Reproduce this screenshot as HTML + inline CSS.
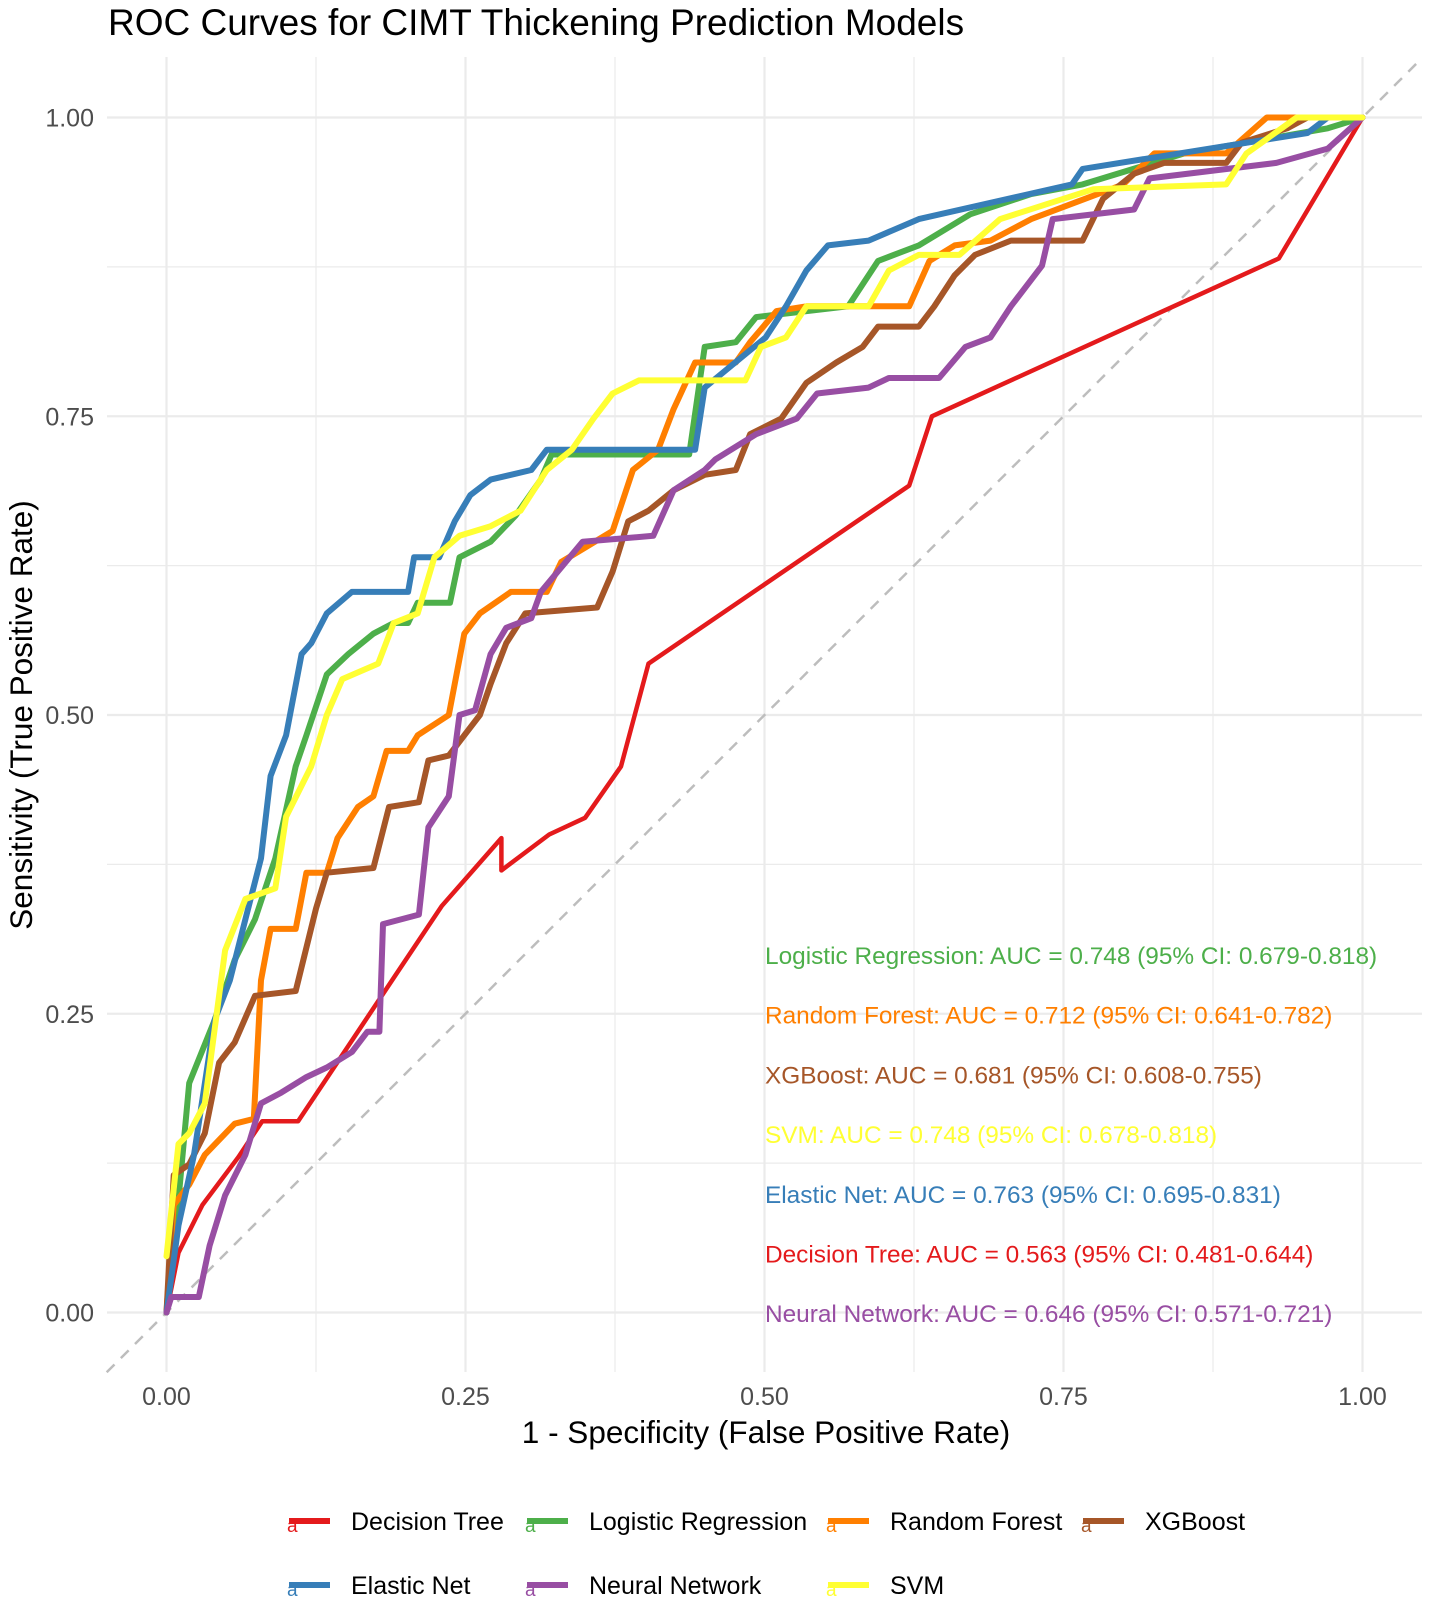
<!DOCTYPE html>
<html><head><meta charset="utf-8"><style>
html,body{margin:0;padding:0;background:#fff;}
svg{display:block;font-family:"Liberation Sans",Arial,sans-serif;}
</style></head><body>
<svg id="chart" width="1430" height="1602" viewBox="0 0 1430 1602">
<text x="108" y="35" font-size="37" fill="#000">ROC Curves for CIMT Thickening Prediction Models</text>
<g id="grid"></g>
<g id="curves"></g>
<g id="annot"></g>
<g id="axes"></g>
<g id="legend"></g>
</svg>
<script>
const xTicks = [0, 0.25, 0.5, 0.75, 1];
const xTickLabels = ["0.00","0.25","0.50","0.75","1.00"];
const yTicks = [0, 0.25, 0.5, 0.75, 1];
const yTickLabels = ["0.00","0.25","0.50","0.75","1.00"];
const seriesNames = ["Decision Tree","Logistic Regression","Random Forest","XGBoost","Elastic Net","Neural Network","SVM"];
const seriesColors = ["#E41A1C","#4DAF4A","#FF7F00","#A65628","#377EB8","#984EA3","#FFFF33"];
const aucLabels = [
 ["Logistic Regression: AUC = 0.748 (95% CI: 0.679-0.818)","#4DAF4A"],
 ["Random Forest: AUC = 0.712 (95% CI: 0.641-0.782)","#FF7F00"],
 ["XGBoost: AUC = 0.681 (95% CI: 0.608-0.755)","#A65628"],
 ["SVM: AUC = 0.748 (95% CI: 0.678-0.818)","#FFFF33"],
 ["Elastic Net: AUC = 0.763 (95% CI: 0.695-0.831)","#377EB8"],
 ["Decision Tree: AUC = 0.563 (95% CI: 0.481-0.644)","#E41A1C"],
 ["Neural Network: AUC = 0.646 (95% CI: 0.571-0.721)","#984EA3"]
];
const dtFpr=[0,.01,.03,.06,.08,.11,.19,.23,.28,.28,.32,.35,.38,.403,.621,.64,.93,1];
const dtTpr=[0,.05,.09,.13,.16,.16,.28,.34,.397,.37,.40,.414,.457,.543,.692,.75,.882,1];
const lrFpr=[0,.008,.019,.040,.057,.074,.091,.108,.117,.134,.152,.173,.190,.202,.210,.237,.245,.271,.292,.313,.322,.437,.450,.476,.493,.535,.570,.595,.629,.672,.723,.766,.851,.971,1];
const lrTpr=[0,.073,.192,.244,.295,.329,.380,.457,.483,.534,.551,.568,.577,.577,.594,.594,.632,.645,.667,.697,.718,.718,.808,.812,.833,.838,.842,.880,.893,.919,.936,.944,.970,.991,1];
const rfFpr=[0,.006,.019,.032,.057,.073,.079,.087,.108,.117,.134,.143,.160,.173,.184,.202,.210,.236,.249,.262,.288,.318,.330,.373,.390,.411,.424,.442,.476,.488,.510,.535,.621,.638,.659,.689,.723,.800,.826,.886,.920,1];
const rfTpr=[0,.090,.107,.132,.158,.162,.278,.321,.321,.368,.368,.397,.423,.432,.470,.470,.483,.500,.568,.585,.603,.603,.628,.654,.705,.722,.756,.795,.795,.812,.838,.842,.842,.880,.893,.897,.915,.944,.970,.970,1,1];
const xgFpr=[0,.006,.019,.032,.044,.057,.074,.108,.125,.134,.173,.186,.211,.219,.236,.249,.262,.271,.284,.300,.360,.373,.386,.403,.424,.450,.476,.488,.514,.535,.560,.582,.595,.629,.642,.659,.676,.706,.766,.783,.809,.834,.886,.899,.937,.954,1];
const xgTpr=[0,.115,.124,.150,.209,.226,.265,.269,.338,.368,.372,.423,.427,.462,.466,.483,.500,.526,.560,.585,.590,.620,.662,.671,.688,.701,.705,.735,.748,.778,.795,.808,.825,.825,.842,.868,.885,.897,.897,.932,.953,.962,.962,.979,.991,1,1];
const enFpr=[0,.010,.023,.040,.053,.066,.079,.087,.100,.113,.121,.134,.155,.202,.207,.228,.241,.254,.271,.305,.318,.442,.450,.501,.518,.535,.553,.587,.629,.757,.766,.954,.971,1];
const enTpr=[0,.073,.132,.244,.278,.329,.380,.449,.483,.551,.560,.585,.603,.603,.632,.632,.662,.684,.697,.705,.722,.722,.774,.816,.842,.872,.893,.897,.915,.944,.957,.987,1,1];
const nnFpr=[0,.004,.027,.036,.049,.066,.079,.096,.117,.134,.155,.168,.178,.181,.211,.219,.236,.245,.258,.271,.284,.305,.313,.348,.407,.424,.450,.459,.493,.527,.544,.587,.604,.646,.668,.689,.706,.732,.741,.809,.822,.928,.971,1];
const nnTpr=[0,.013,.013,.056,.098,.132,.175,.184,.197,.205,.218,.235,.235,.325,.333,.406,.432,.500,.504,.551,.573,.581,.603,.645,.650,.688,.705,.714,.735,.748,.769,.774,.782,.782,.808,.816,.842,.876,.915,.923,.949,.962,.974,1];
const svFpr=[0,.010,.019,.032,.049,.066,.091,.100,.121,.134,.147,.177,.190,.210,.224,.245,.271,.296,.318,.339,.357,.373,.395,.484,.497,.518,.535,.587,.604,.629,.663,.697,.775,.886,.903,.945,1];
const svTpr=[.047,.141,.150,.175,.303,.346,.355,.415,.457,.500,.530,.543,.577,.585,.632,.650,.658,.671,.705,.722,.748,.769,.780,.780,.808,.816,.842,.842,.872,.885,.885,.915,.940,.944,.970,1,1];
const seriesFpr=[dtFpr,lrFpr,rfFpr,xgFpr,enFpr,nnFpr,svFpr];
const seriesTpr=[dtTpr,lrTpr,rfTpr,xgTpr,enTpr,nnTpr,svTpr];

const NS="http://www.w3.org/2000/svg";
const X0=166.5, X1=1362.5, Y0=1312.5, Y1=117.5;
const sx=v=>X0+(X1-X0)*v;
const sy=v=>Y0-(Y0-Y1)*v;
function mk(tag,attrs,parent){const e=document.createElementNS(NS,tag);for(const k in attrs)e.setAttribute(k,attrs[k]);parent.appendChild(e);return e;}
const grid=document.getElementById('grid');
for(let v=-0.125;v<=1.126;v+=0.125){
  const major=Math.abs(v*4-Math.round(v*4))<1e-6;
  if(v>=-0.05&&v<=1.05){
  const gx=mk('line',{x1:sx(v),x2:sx(v),y1:57,y2:1372,stroke:'#ebebeb','stroke-width':major?2.2:1.2},grid);
  
  
  const gy=mk('line',{x1:107,x2:1422,y1:sy(v),y2:sy(v),stroke:'#ebebeb','stroke-width':major?2.2:1.2},grid);
  
  
  }
}
const curves=document.getElementById('curves');
const diag=mk('line',{x1:sx(-0.05),y1:sy(-0.05),x2:sx(1.05),y2:sy(1.05),stroke:'#bdbdbd','stroke-width':2.5,'stroke-dasharray':'11 9'},curves);


seriesNames.forEach((n,i)=>{
  const f=seriesFpr[i], t=seriesTpr[i];
  const pts=f.map((x,j)=>sx(x).toFixed(1)+','+sy(t[j]).toFixed(1)).join(' ');
  const pl=mk('polyline',{points:pts,fill:'none',stroke:seriesColors[i],'stroke-width':i===0?4.5:6,'stroke-linejoin':'round','stroke-linecap':'round'},curves);
  
  
});
const annot=document.getElementById('annot');
aucLabels.forEach((a,i)=>{
  const t=mk('text',{x:765,y:964+i*59.7,'font-size':24.4,fill:a[1]},annot);
  t.textContent=a[0];
  
  
});
const axes=document.getElementById('axes');
xTicks.forEach((v,i)=>{
  const t=mk('text',{x:sx(v),y:1405,'font-size':25,fill:'#4d4d4d','text-anchor':'middle'},axes);
  t.textContent=xTickLabels[i];
  
  
});
yTicks.forEach((v,i)=>{
  const t=mk('text',{x:94,y:sy(v)+9,'font-size':25,fill:'#4d4d4d','text-anchor':'end'},axes);
  t.textContent=yTickLabels[i];
  
  
});
const xt=mk('text',{x:766,y:1443,'font-size':31.5,fill:'#000','text-anchor':'middle'},axes);
xt.textContent='1 - Specificity (False Positive Rate)';


const yt=mk('text',{x:0,y:0,'font-size':31.5,fill:'#000','text-anchor':'middle',transform:'translate(32,715) rotate(-90)'},axes);
yt.textContent='Sensitivity (True Positive Rate)';


const legend=document.getElementById('legend');
const legPos=[[289,1521],[527,1521],[828,1521],[1083,1521],[289,1585],[527,1585],[828,1585]];
seriesNames.forEach((n,i)=>{
  const g=mk('g',{},legend);
  
  
  const [lx,ly]=legPos[i];
  mk('line',{x1:lx,x2:lx+41,y1:ly,y2:ly,stroke:seriesColors[i],'stroke-width':6},g);
  const a=mk('text',{x:lx-2,y:ly+11,'font-size':19,fill:seriesColors[i]},g);
  a.textContent='a';
  const t=mk('text',{x:lx+62,y:ly+9,'font-size':25,fill:'#000'},g);
  t.textContent=n;
});
</script>
</body></html>
